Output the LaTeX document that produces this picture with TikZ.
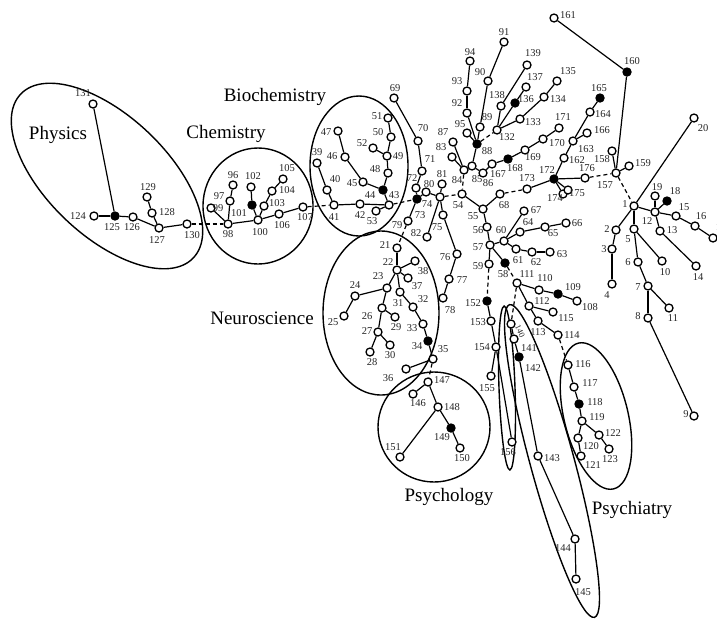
\documentclass[tikz,border=0pt]{standalone}
\usepackage{fontspec}
\setmainfont{Liberation Serif}
\newcommand\mkv[5]{\node[vo] (n#1) at (#2,#3) {}; \node[lbl] (t#1) at (#4,#5) {#1};}
\newcommand\mkf[5]{\node[vf] (n#1) at (#2,#3) {}; \node[lbl] (t#1) at (#4,#5) {#1};}
\begin{document}
\begin{tikzpicture}[x=1pt,y=-1pt,
  vo/.style={circle,draw,fill=white,line width=1.3pt,inner sep=0pt,minimum size=8pt},
  vf/.style={vo,fill=black},
  lbl/.style={font=\fontsize{10.5}{10.5}\selectfont,inner sep=0pt,text=black!85},
  cat/.style={font=\fontsize{19}{19}\selectfont,inner sep=0pt},
  edge/.style={line width=1.2pt},
  dedge/.style={edge,dash pattern=on 4pt off 3pt},
  grp/.style={line width=1.4pt}]
\useasboundingbox[fill=white] (0,0) rectangle (717,619);
% group outlines
\draw[grp,rotate around={-43.5:(107,176)}] (107,176) ellipse [x radius=119pt,y radius=60pt];
\draw[grp] (258,206) ellipse [x radius=55pt,y radius=58pt];
\draw[grp] (359,166) ellipse [x radius=49pt,y radius=70pt];
\draw[grp] (381,313) ellipse [x radius=58pt,y radius=82pt];
\draw[grp] (434,427) ellipse [x radius=56pt,y radius=55pt];
\draw[grp,rotate around={13.6:(596,416)}] (596,416) ellipse [x radius=32pt,y radius=75pt];
\draw[grp,rotate around={15.2:(552,461)}] (552,461) ellipse [x radius=22pt,y radius=162pt];
\draw[grp,rotate around={2:(507,388)}] (507,388) ellipse [x radius=8pt,y radius=82pt];
% category names
\node[cat] (cPhys) at (58,135) {Physics};
\node[cat] (cChem) at (226,134) {Chemistry};
\node[cat] (cBio) at (275,97) {Biochemistry};
\node[cat] (cNeuro) at (262,318) {Neuroscience};
\node[cat] (cPsyl) at (449,497) {Psychology};
\node[cat] (cPsyc) at (632,510) {Psychiatry};
% right cluster
\mkv{1}{634}{206}{625}{204}
\mkv{2}{616}{230}{607}{229}
\mkv{3}{612}{249}{604}{249}
\mkv{4}{612}{284}{607}{295}
\mkv{5}{634}{229}{628}{239}
\mkv{6}{638}{262}{628}{262}
\mkv{7}{648}{286}{638}{287}
\mkv{8}{648}{318}{638}{316}
\mkv{9}{694}{416}{686}{414}
\mkv{10}{662}{261}{665}{272}
\mkv{11}{669}{308}{673}{318}
\mkv{12}{655}{212}{647}{221}
\mkv{13}{660}{231}{672}{230}
\mkv{14}{696}{266}{698}{277}
\mkv{15}{676}{216}{684}{207}
\mkv{16}{695}{226}{701}{216}
\mkv{17}{713}{238}{721}{227}
\mkf{18}{667}{201}{675}{191}
\mkv{19}{655}{196}{657}{187}
\mkv{20}{694}{118}{703}{128}
% neuroscience
\mkv{21}{397}{248}{385}{245}
\mkv{22}{397}{270}{388}{262}
\mkv{23}{387}{288}{378}{276}
\mkv{24}{355}{296}{355}{285}
\mkv{25}{344}{316}{333}{322}
\mkv{26}{382}{308}{367}{316}
\mkv{27}{378}{332}{367}{331}
\mkv{28}{370}{352}{372}{362}
\mkv{29}{395}{317}{396}{327}
\mkv{30}{390}{345}{390}{355}
\mkv{31}{400}{292}{398}{303}
\mkv{32}{413}{307}{423}{299}
\mkv{33}{423}{324}{412}{328}
\mkf{34}{428}{341}{417}{346}
\mkv{35}{433}{359}{443}{349}
\mkv{36}{406}{369}{388}{378}
\mkv{37}{408}{278}{417}{286}
\mkv{38}{415}{261}{423}{271}
% biochemistry
\mkv{39}{317}{163}{317}{152}
\mkv{40}{327}{190}{335}{179}
\mkv{41}{334}{205}{334}{217}
\mkv{42}{360}{204}{360}{215}
\mkv{43}{389}{205}{394}{195}
\mkf{44}{383}{190}{370}{195}
\mkv{45}{363}{182}{352}{183}
\mkv{46}{345}{157}{332}{156}
\mkv{47}{338}{131}{326}{132}
\mkv{48}{388}{173}{375}{169}
\mkv{49}{387}{156}{398}{156}
\mkv{50}{391}{137}{378}{132}
\mkv{51}{388}{118}{377}{116}
\mkv{52}{373}{148}{362}{143}
\mkv{53}{376}{211}{372}{221}
% centre
\mkv{54}{462}{194}{458}{205}
\mkv{55}{483}{209}{473}{216}
\mkv{56}{487}{227}{478}{230}
\mkv{57}{490}{245}{478}{247}
\mkf{58}{505}{263}{503}{274}
\mkv{59}{489}{264}{478}{266}
\mkv{60}{504}{241}{501}{230}
\mkv{61}{516}{249}{518}{260}
\mkv{62}{532}{252}{536}{262}
\mkv{63}{550}{252}{562}{254}
\mkv{64}{520}{232}{528}{222}
\mkv{65}{545}{227}{553}{233}
\mkv{66}{566}{223}{577}{223}
\mkv{67}{524}{211}{536}{210}
\mkv{68}{500}{194}{504}{205}
\mkv{69}{394}{98}{395}{88}
\mkv{70}{418}{141}{423}{128}
\mkv{71}{422}{171}{430}{159}
\mkv{72}{416}{188}{412}{178}
\mkf{73}{417}{199}{420}{215}
\mkv{74}{440}{197}{427}{204}
\mkv{75}{443}{215}{437}{227}
\mkv{76}{457}{254}{445}{257}
\mkv{77}{449}{279}{462}{280}
\mkv{78}{443}{298}{450}{310}
\mkv{79}{408}{221}{397}{225}
\mkv{80}{426}{192}{429}{184}
\mkv{81}{442}{184}{442}{174}
\mkv{82}{427}{237}{416}{233}
\mkv{83}{452}{157}{441}{147}
\mkv{84}{464}{170}{457}{180}
\mkv{85}{472}{166}{477}{179}
\mkv{86}{483}{173}{488}{183}
\mkv{87}{453}{142}{443}{132}
\mkf{88}{477}{144}{487}{151}
\mkv{89}{480}{127}{487}{117}
\mkv{90}{488}{81}{480}{72}
\mkv{91}{504}{42}{504}{32}
\mkv{92}{467}{113}{457}{103}
\mkv{93}{467}{91}{457}{81}
\mkv{94}{470}{61}{470}{52}
\mkv{95}{467}{133}{460}{124}
% chemistry
\mkv{96}{233}{185}{233}{175}
\mkv{97}{230}{201}{219}{196}
\mkv{98}{228}{224}{228}{234}
\mkv{99}{211}{208}{218}{208}
\mkv{100}{258}{220}{260}{232}
\mkf{101}{252}{205}{239}{213}
\mkv{102}{251}{187}{253}{176}
\mkv{103}{264}{206}{277}{203}
\mkv{104}{272}{191}{287}{190}
\mkv{105}{283}{179}{287}{168}
\mkv{106}{279}{214}{282}{225}
\mkv{107}{303}{207}{305}{217}
% lower
\mkv{108}{577}{301}{590}{307}
\mkf{109}{558}{294}{573}{287}
\mkv{110}{539}{290}{545}{278}
\mkv{111}{517}{283}{527}{274}
\mkv{112}{529}{306}{542}{301}
\mkv{113}{538}{321}{538}{332}
\mkv{114}{558}{335}{572}{335}
\mkv{115}{553}{312}{566}{318}
\mkv{116}{568}{365}{583}{364}
\mkv{117}{574}{387}{590}{383}
\mkf{118}{579}{404}{595}{402}
\mkv{119}{582}{421}{597}{417}
\mkv{120}{578}{438}{591}{446}
\mkv{121}{581}{456}{593}{465}
\mkv{122}{599}{435}{613}{433}
\mkv{123}{609}{449}{610}{459}
% physics
\mkv{124}{94}{216}{78}{216}
\mkf{125}{115}{216}{112}{227}
\mkv{126}{133}{217}{132}{227}
\mkv{127}{159}{228}{157}{240}
\mkv{128}{152}{213}{167}{212}
\mkv{129}{147}{197}{148}{187}
\mkv{130}{187}{224}{192}{235}
\mkv{131}{93}{104}{83}{93}
% top
\mkv{132}{497}{130}{507}{137}
\mkv{133}{520}{119}{533}{122}
\mkv{134}{544}{97}{558}{99}
\mkv{135}{557}{81}{568}{71}
\mkf{136}{515}{103}{526}{99}
\mkv{137}{526}{87}{535}{77}
\mkv{138}{501}{106}{497}{95}
\mkv{139}{527}{65}{533}{53}
\node[vo] (n140) at (511,324) {}; \node[lbl,rotate=-65,font=\fontsize{8.5}{8.5}\selectfont] (t140) at (520,331) {140};
\mkv{141}{514}{339}{529}{348}
\mkf{142}{519}{357}{533}{368}
\mkv{143}{538}{456}{552}{458}
\mkv{144}{575}{539}{563}{548}
\mkv{145}{576}{579}{583}{592}
\mkv{146}{413}{394}{418}{403}
\mkv{147}{428}{382}{442}{380}
\mkv{148}{438}{407}{452}{407}
\mkf{149}{451}{428}{442}{437}
\mkv{150}{460}{448}{462}{458}
\mkv{151}{400}{457}{393}{447}
\mkf{152}{487}{301}{473}{303}
\mkv{153}{491}{321}{478}{322}
\mkv{154}{496}{347}{482}{347}
\mkv{155}{491}{376}{487}{388}
\mkv{156}{512}{442}{508}{452}
\mkv{157}{616}{173}{605}{185}
\mkv{158}{612}{151}{602}{159}
\mkv{159}{629}{166}{643}{163}
\mkf{160}{627}{72}{632}{61}
\mkv{161}{554}{18}{568}{15}
\mkv{162}{564}{158}{577}{160}
\mkv{163}{573}{141}{586}{149}
\mkv{164}{590}{112}{603}{114}
\mkf{165}{600}{98}{599}{88}
\mkv{166}{587}{133}{602}{130}
\mkv{167}{492}{164}{498}{174}
\mkf{168}{508}{159}{515}{168}
\mkv{169}{525}{150}{533}{157}
\mkv{170}{543}{139}{557}{143}
\mkv{171}{559}{128}{563}{117}
\mkf{172}{554}{179}{547}{170}
\mkv{173}{527}{189}{527}{178}
\mkv{174}{563}{194}{555}{198}
\mkv{175}{568}{190}{577}{193}
\mkv{176}{585}{178}{587}{168}
% solid edges
\foreach \a/\b in {1/2,2/3,3/4,1/5,5/6,6/7,7/8,8/9,7/11,5/10,1/12,12/19,12/18,12/15,15/16,16/17,12/13,13/14,1/20,
  21/22,22/38,22/37,22/23,23/24,24/25,22/31,31/32,32/33,33/34,34/35,35/36,23/26,26/27,27/28,26/29,27/30,
  39/40,40/41,41/42,42/43,43/53,44/43,45/44,46/45,47/46,48/44,49/48,50/49,51/50,52/49,
  54/55,55/68,55/56,56/57,57/60,60/67,60/64,64/65,65/66,60/61,61/62,62/63,57/58,57/59,
  69/70,70/71,71/72,72/73,73/80,80/74,74/81,74/75,75/76,76/77,77/78,74/82,73/79,
  87/84,83/84,84/85,85/88,85/86,94/93,93/92,92/88,95/88,91/90,90/89,89/88,
  99/98,96/97,97/98,98/100,101/100,102/101,100/103,103/104,104/105,100/106,106/107,
  111/110,110/109,109/108,111/112,112/115,112/113,113/114,116/117,117/118,118/119,119/120,120/121,119/122,122/123,
  124/125,125/126,126/127,127/128,128/129,127/130,131/125,
  132/138,138/139,132/136,136/137,132/133,133/134,134/135,
  140/141,141/142,142/143,143/144,144/145,147/146,147/148,148/149,149/150,148/151,
  152/153,153/154,154/155,154/156,161/160,160/157,158/157,157/159,
  167/168,168/169,169/170,170/171,172/162,162/163,163/164,164/165,163/166,172/174,172/175,172/176,173/172}
  \draw[edge] (n\a) -- (n\b);
% dashed edges
\foreach \a/\b in {130/98,107/41,43/73,74/54,84/54,86/167,88/132,68/173,176/157,157/1,79/21,59/152,58/111,111/140,114/116,35/147}
  \draw[dedge] (n\a) -- (n\b);
\end{tikzpicture}
\end{document}
